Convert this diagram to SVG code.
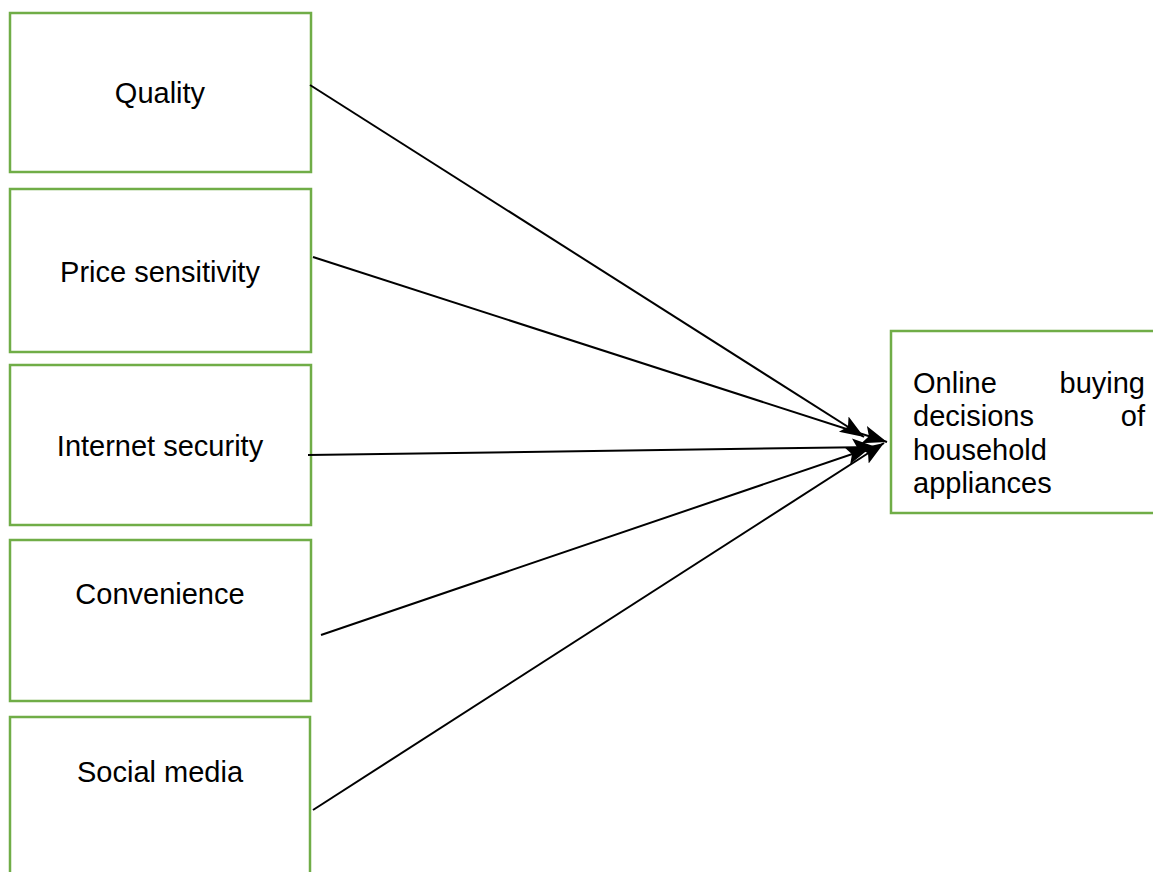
<svg xmlns="http://www.w3.org/2000/svg" width="1153" height="872" viewBox="0 0 1153 872">
<style>
.box{fill:#fff;stroke:#70AD47;stroke-width:2.5}
.t{font-family:"Liberation Sans",Arial,sans-serif;font-size:29px;fill:#000}
.c{text-anchor:middle}
.e{text-anchor:end}
.ln{stroke:#000;stroke-width:2;fill:none;marker-end:url(#ah)}
</style>
<defs>
<marker id="ah" markerUnits="userSpaceOnUse" markerWidth="26" markerHeight="20" viewBox="0 0 26 20" refX="24" refY="10" orient="auto">
<path d="M0,1 L24,10 L0,19 L5,10 Z" fill="#000"/>
</marker>
</defs>
<rect width="1153" height="872" fill="#fff"/>
<g id="quality"><rect class="box" x="10" y="13" width="301" height="159"/><text class="t c" x="160" y="103">Quality</text></g>
<g id="price"><rect class="box" x="10" y="189" width="301" height="163"/><text class="t c" x="160" y="282">Price sensitivity</text></g>
<g id="internet"><rect class="box" x="10" y="365" width="301" height="160"/><text class="t c" x="160" y="456">Internet security</text></g>
<g id="convenience"><rect class="box" x="10" y="540" width="301" height="161"/><text class="t c" x="160" y="604">Convenience</text></g>
<g id="social"><rect class="box" x="10" y="717" width="300" height="200"/><text class="t c" x="160" y="782">Social media</text></g>
<g id="outcome"><rect class="box" x="891" y="331" width="280" height="182"/>
<text class="t" x="913" y="393">Online</text><text class="t e" x="1145" y="393">buying</text>
<text class="t" x="913" y="426">decisions</text><text class="t e" x="1145" y="426">of</text>
<text class="t" x="913" y="460">household</text>
<text class="t" x="913" y="493">appliances</text></g>
<g id="connectors">
<line class="ln" x1="310" y1="85" x2="864" y2="437"/>
<line class="ln" x1="313" y1="257" x2="887" y2="442"/>
<line class="ln" x1="308" y1="455" x2="876" y2="447"/>
<line class="ln" x1="321" y1="635" x2="870" y2="448"/>
<line class="ln" x1="313" y1="810" x2="884" y2="443"/>
</g>
</svg>
